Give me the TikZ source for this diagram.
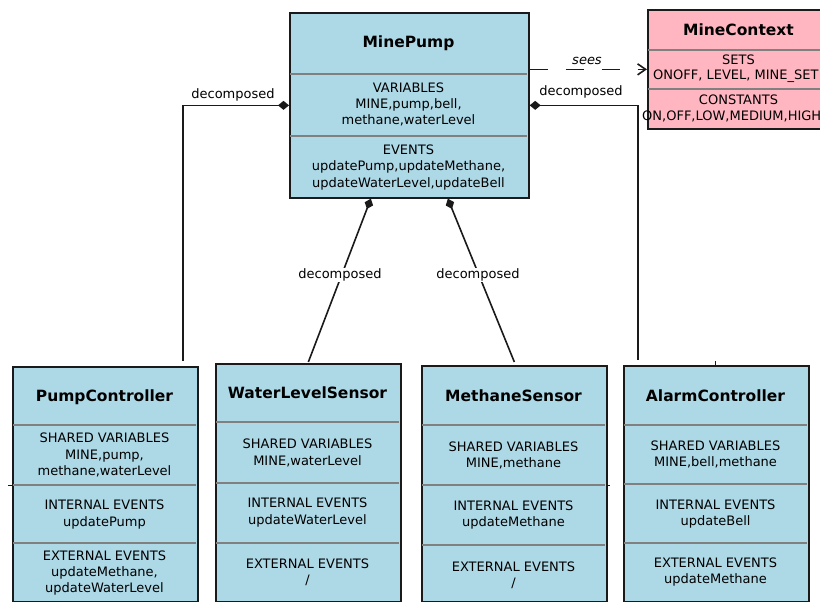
\documentclass[tikz,border=0pt]{standalone}
\usepackage{fontspec}
\setmainfont{DejaVu Sans}
\usetikzlibrary{arrows.meta}
\definecolor{boxblue}{HTML}{ADD8E6}
\definecolor{boxpink}{HTML}{FFB6C1}
\definecolor{divgray}{HTML}{808080}
\definecolor{edgecol}{HTML}{1A1A1A}
\begin{document}
\begin{tikzpicture}[x=1pt,y=-1pt,
  umlbox/.style={draw=edgecol,line width=1.7pt,inner sep=0pt,anchor=north west},
  divider/.style={draw=divgray,line width=1.5pt},
  titletxt/.style={inner sep=0pt,font=\fontsize{15.5}{18}\selectfont\bfseries},
  bodytxt/.style={inner sep=0pt,align=center,font=\fontsize{13}{16.3}\selectfont},
  lbl/.style={inner sep=1pt,font=\fontsize{13}{15}\selectfont},
  decomp/.style={draw=edgecol,line width=1.6pt,{Diamond[length=11pt,width=9pt]}-},
  sees/.style={draw=edgecol,line width=1.6pt,dash pattern=on 18pt off 18pt,-{Straight Barb[length=8pt,width=11pt]}},
  tick/.style={draw=edgecol,line width=1pt}]
\useasboundingbox (0,0) rectangle (820,602);
\clip (0,0) rectangle (820,602);

% MinePump
\node[umlbox,fill=boxblue,minimum width=239pt,minimum height=185pt] (mp) at (289,12) {};
\draw[divider] (290,74) -- (527,74);
\draw[divider] (290,136) -- (527,136);
\node[titletxt] (mpt) at (408.5,43) {MinePump};
\node[bodytxt] (mpv) at (408.5,104.5) {VARIABLES\\MINE,pump,bell,\\methane,waterLevel};
\node[bodytxt] (mpe) at (408.5,167.5) {EVENTS\\updatePump,updateMethane,\\updateWaterLevel,updateBell};

% MineContext
\node[umlbox,fill=boxpink,minimum width=185pt,minimum height=119pt] (mc) at (647,9) {};
\draw[divider] (648,50) -- (831,50);
\draw[divider] (648,89) -- (831,89);
\node[titletxt] (mct) at (738.5,30) {MineContext};
\node[bodytxt] (mcs1) at (738.5,60) {SETS};
\node[bodytxt,anchor=west] (mcs2) at (653,76) {ONOFF, LEVEL, MINE\_SET};
\node[bodytxt] (mcc1) at (738.5,100) {CONSTANTS};
\node[bodytxt,anchor=west] (mcc2) at (642,116) {ON,OFF,LOW,MEDIUM,HIGH};

% PumpController
\node[umlbox,fill=boxblue,minimum width=185pt,minimum height=235pt] (pc) at (12,366) {};
\draw[divider] (13,425) -- (196,425);
\draw[divider] (13,485) -- (196,485);
\draw[divider] (13,543) -- (196,543);
\node[titletxt] (pct) at (104.5,397) {PumpController};
\node[bodytxt] (pcs) at (104.5,455) {SHARED VARIABLES\\MINE,pump,\\methane,waterLevel};
\node[bodytxt] (pci) at (104.5,514.5) {INTERNAL EVENTS\\updatePump};
\node[bodytxt] (pce) at (104.5,573) {EXTERNAL EVENTS\\updateMethane,\\updateWaterLevel};

% WaterLevelSensor
\node[umlbox,fill=boxblue,minimum width=185pt,minimum height=238pt] (wls) at (215,363) {};
\draw[divider] (216,422) -- (399,422);
\draw[divider] (216,483) -- (399,483);
\draw[divider] (216,543) -- (399,543);
\node[titletxt] (wlst) at (307.5,393) {WaterLevelSensor};
\node[bodytxt] (wlss) at (307.5,453) {SHARED VARIABLES\\MINE,waterLevel};
\node[bodytxt] (wlsi) at (307.5,512.5) {INTERNAL EVENTS\\updateWaterLevel};
\node[bodytxt] (wlse) at (307.5,572) {EXTERNAL EVENTS\\/};

% MethaneSensor
\node[umlbox,fill=boxblue,minimum width=185pt,minimum height=236pt] (ms) at (421,365) {};
\draw[divider] (422,425) -- (605,425);
\draw[divider] (422,485) -- (605,485);
\draw[divider] (422,545) -- (605,545);
\node[titletxt] (mst) at (513.5,396) {MethaneSensor};
\node[bodytxt] (mss) at (513.5,455.5) {SHARED VARIABLES\\MINE,methane};
\node[bodytxt] (msi) at (513.5,515) {INTERNAL EVENTS\\updateMethane};
\node[bodytxt] (mse) at (513.5,575) {EXTERNAL EVENTS\\/};

% AlarmController
\node[umlbox,fill=boxblue,minimum width=185pt,minimum height=236pt] (ac) at (623,365) {};
\draw[divider] (624,425) -- (807,425);
\draw[divider] (624,484) -- (807,484);
\draw[divider] (624,543) -- (807,543);
\node[titletxt] (act) at (715.5,396) {AlarmController};
\node[bodytxt] (acs) at (715.5,454.5) {SHARED VARIABLES\\MINE,bell,methane};
\node[bodytxt] (aci) at (715.5,514) {INTERNAL EVENTS\\updateBell};
\node[bodytxt] (ace) at (715.5,572) {EXTERNAL EVENTS\\updateMethane};

% connectors
\draw[decomp] (mp.west) -| ([xshift=171pt,yshift=5pt]pc.north west);
\draw[decomp] (mp.east) -| ([xshift=15pt,yshift=5pt]ac.north west);
\draw[decomp] ([xshift=-38.5pt]mp.south) -- ([yshift=1pt]wls.north);
\draw[decomp] ([xshift=38.5pt]mp.south) -- ([yshift=3pt]ms.north);
\draw[sees] (mc.west -| mp.east) -- (mc.west);

\node[lbl] (l1) at (233,95) {decomposed};
\node[lbl] (l2) at (581,92) {decomposed};
\node[lbl,fill=white] (l3) at (340,275) {decomposed};
\node[lbl,fill=white] (l4) at (478,275) {decomposed};
\node[lbl,font=\fontsize{13}{15}\selectfont\itshape] (l5) at (587,61) {sees};

% small stubs
\draw[tick] (8,485) -- (12,485);
\draw[tick] (606,485) -- (610,485);
\draw[tick] (715,361) -- (715,365);
\end{tikzpicture}
\end{document}
